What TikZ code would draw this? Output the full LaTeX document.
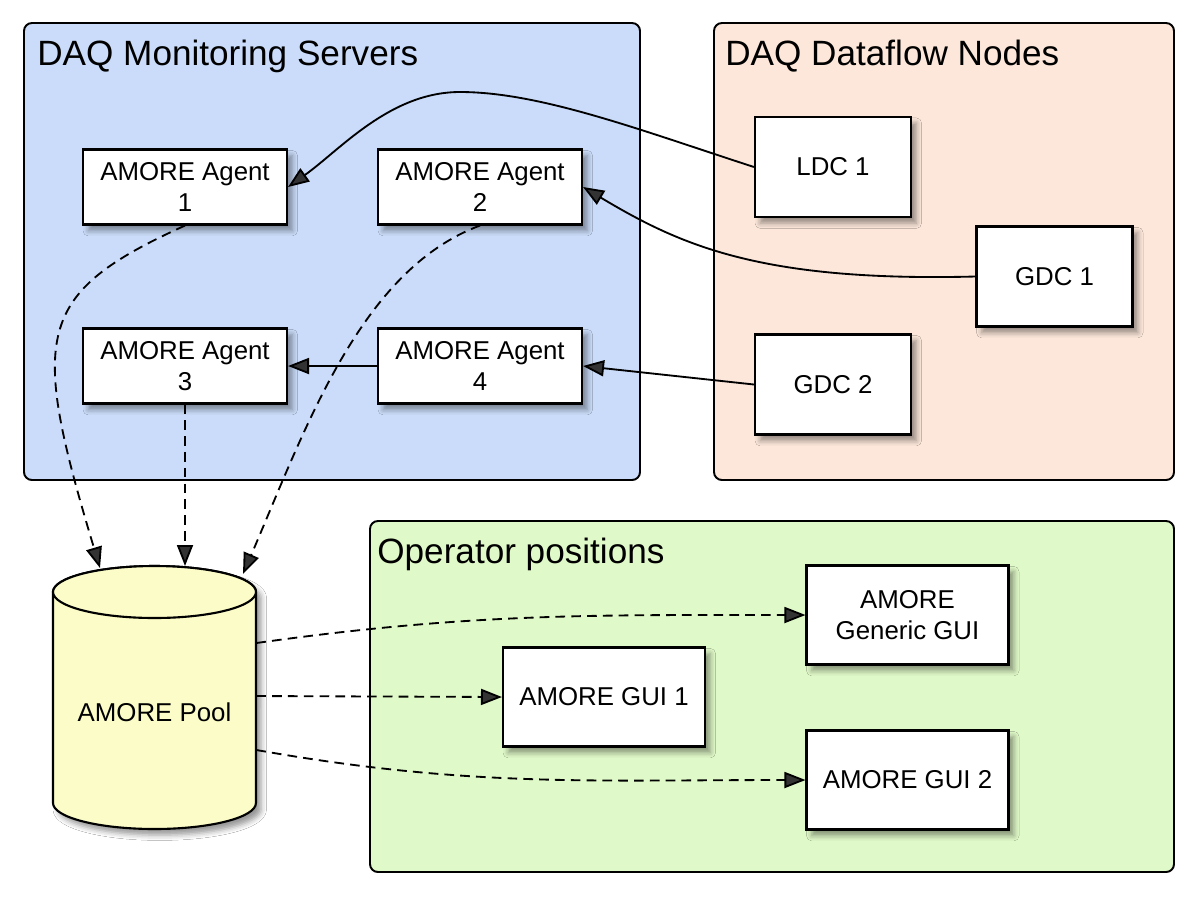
\documentclass[tikz,border=0pt]{standalone}
\usepackage{fontspec}
\setmainfont{Liberation Sans}
\usetikzlibrary{arrows.meta,shadows.blur}
\definecolor{grpblue}{RGB}{202,220,249}
\definecolor{grporange}{RGB}{252,231,218}
\definecolor{grpgreen}{RGB}{224,249,200}
\definecolor{poolyellow}{RGB}{252,252,200}
\begin{document}
\begin{tikzpicture}[x=0.02cm,y=-0.02cm,
  group/.style={draw=black, line width=1.1pt, rounded corners=4.5pt},
  grptitle/.style={anchor=base west, font=\fontsize{20}{24}\selectfont, inner sep=0pt},
  softshadow/.style={blur shadow={shadow xshift=3pt, shadow yshift=-3.5pt, shadow blur radius=3pt, shadow opacity=40}},
  box/.style={draw=black, fill=white, line width=1.2pt, align=center,
    font=\fontsize{14.7}{17.5}\selectfont, inner sep=2pt, softshadow},
  agentbox/.style={box, minimum width=4.08cm, minimum height=1.5cm},
  daqbox/.style={box, minimum width=3.12cm, minimum height=2cm},
  guibox/.style={box, minimum width=4.04cm, minimum height=1.98cm},
  flow/.style={line width=1.05pt, -{Triangle[length=0.42cm,width=0.32cm]}},
  mon/.style={flow, dash pattern=on 5.5pt off 3.5pt}
]
\useasboundingbox (0,0) rectangle (1200,897);
\fill[white] (0,0) rectangle (1200,897);

% groups
\draw[group, fill=grpblue] (24,23) rectangle (640,480);
\draw[group, fill=grporange] (714,23) rectangle (1174,480);
\draw[group, fill=grpgreen] (370,521) rectangle (1174,872);
\node[grptitle] (t1) at (37,65) {DAQ Monitoring Servers};
\node[grptitle] (t2) at (725,65) {DAQ Dataflow Nodes};
\node[grptitle] (t3) at (377,563) {Operator positions};

% agents
\node[agentbox] (ag1) at (185,187) {AMORE Agent\\1};
\node[agentbox] (ag2) at (480,187) {AMORE Agent\\2};
\node[agentbox] (ag3) at (185,366) {AMORE Agent\\3};
\node[agentbox] (ag4) at (480,366) {AMORE Agent\\4};

% dataflow nodes
\node[daqbox] (ldc1) at (833,167) {LDC 1};
\node[daqbox] (gdc1) at (1054.5,276.5) {GDC 1};
\node[daqbox] (gdc2) at (833,384.5) {GDC 2};

% GUIs
\node[guibox] (ggui) at (907.5,615) {AMORE\\Generic GUI};
\node[guibox] (gui1) at (604,697) {AMORE GUI 1};
\node[guibox] (gui2) at (907.5,780) {AMORE GUI 2};

% pool cylinder
\path[fill=poolyellow, draw=black, line width=1.2pt, softshadow]
  (53,592) -- (53,803) arc[start angle=180, end angle=360, x radius=2.03cm, y radius=0.52cm]
  -- (256,592) arc[start angle=0, end angle=180, x radius=2.03cm, y radius=0.52cm] -- cycle;
\draw[fill=poolyellow, line width=1.2pt] (154.5,592) ellipse[x radius=2.03cm, y radius=0.52cm];
\node[font=\fontsize{14.7}{17.5}\selectfont, minimum width=4.06cm, inner sep=0pt] (pool) at (154.5,712) {AMORE Pool};
\coordinate (in1) at (100,568);
\coordinate (in2) at (185,566);
\coordinate (in3) at (243,574);

% data flow
\draw[flow] (ldc1.west) .. controls (640,130) and (540,92) .. (460,92)
  .. controls (390,92) and (340,150) .. (ag1.east);
\draw[flow] (gdc1.west) .. controls (760,282) and (680,245) .. (ag2.east);
\draw[flow] (gdc2.west) -- (ag4.east);
\draw[flow] (ag4.west) -- (ag3.east);

% monitoring to pool
\draw[mon] (ag1.south) .. controls (34,294) and (30,335) .. (in1);
\draw[mon] (ag3.south) -- (in2);
\draw[mon] (ag2.south) .. controls (360,270) and (305,430) .. (in3);

% pool to GUIs
\draw[mon] ([yshift=1.38cm]pool.east) to[out=8,in=180] (ggui.west);
\draw[mon] ([yshift=0.32cm]pool.east) -- (gui1.west);
\draw[mon] ([yshift=-0.76cm]pool.east) to[out=-10,in=180] (gui2.west);
\end{tikzpicture}
\end{document}
